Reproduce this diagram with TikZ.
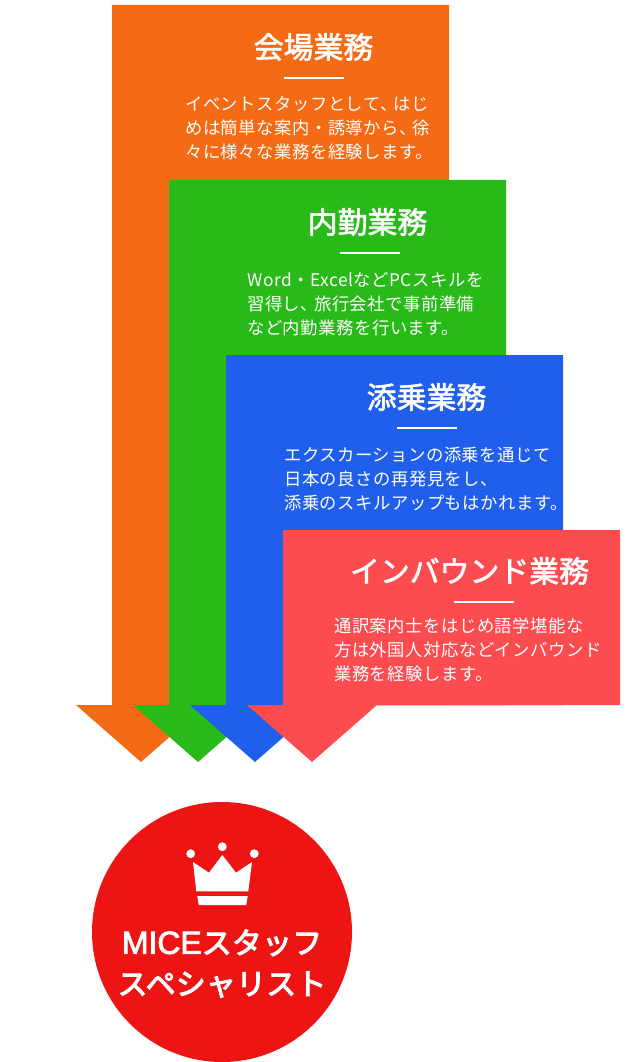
\documentclass[tikz,border=0pt]{standalone}
\usepackage{fontspec}
\usetikzlibrary{positioning}
\newfontfamily\bodyfont[LetterSpace=3]{Noto Sans CJK JP}
\newfontfamily\titlefont[FakeBold=2]{Noto Sans CJK JP}
\newfontfamily\goalfont[LetterSpace=1,FakeBold=3.5]{Noto Sans CJK JP}
\newfontfamily\goallatin[FakeBold=2.5]{Liberation Sans}
\newcommand{\narrowcomma}{、\kern-3pt}
\definecolor{venuecolor}{HTML}{F56A14}
\definecolor{officecolor}{HTML}{28BA18}
\definecolor{tourcolor}{HTML}{1F5FEB}
\definecolor{inboundcolor}{HTML}{FC4C50}
\definecolor{goalcolor}{HTML}{EC1514}

\begin{document}
\begin{tikzpicture}[
			x=0.75pt,
			y=-0.75pt,
			title/.style={
				text=white,
				inner sep=0pt,
				font=\titlefont\fontsize{22.4}{26}\selectfont
			},
			rule/.style={
				rectangle,
				fill=white,
				inner sep=0pt,
				minimum width=45pt,
				minimum height=2pt,
				below=11.5pt of #1
			},
			body/.style={
				text=white,
				inner sep=0pt,
				anchor=north west,
				align=left,
				font=\bodyfont\fontsize{13}{18}\selectfont
			}
			]
			\useasboundingbox (0,0) rectangle (633,1062);
			
			% Arrows
			
			\fill[venuecolor] (112,5) -- (449,5) -- (449,705) -- (206,705) -- (141,762) -- (76,705) -- (112,705) -- cycle;
			\fill[officecolor] (169,180) -- (506,180) -- (506,705) -- (263,705) -- (198,762) -- (133,705) -- (169,705) -- cycle;
			\fill[tourcolor] (226,355) -- (563,355) -- (563,705) -- (320,705) -- (255,762) -- (190,705) -- (226,705) -- cycle;
			\fill[inboundcolor] (283,530) -- (620,530) -- (620,705) -- (377,705) -- (312,762) -- (247,705) -- (283,705) -- cycle;
			
			% Titles
			
			\node [title] (venue) at (313.5,47) {会場業務};
			\node [title] (office) at (367.5,222) {内勤業務};
			\node [title] (tour) at (426.5,397) {添乗業務};
			\node [title] (inbound) at (469.5,571) {インバウンド業務};
			
			% Rules
			
			\node [rule=venue] (venue_rule) {};
			\node [rule=office, xshift=1.9pt] (office_rule) {};
			\node [rule=tour, xshift=.4pt] (tour_rule) {};
			\node [rule=inbound, xshift=10.9pt] (inbound_rule) {};
			
			% Descriptions
			
			\node [body] (venue_text) at (185,96) {イベントスタッフとして\narrowcomma はじ\\めは簡単な案内・誘導から\narrowcomma 徐\\々に様々な業務を経験します。};
			\node [body] (office_text) at (247,272) {Word・ExcelなどPCスキルを\\習得し\narrowcomma 旅行会社で事前準備\\など内勤業務を行います。};
			\node [body] (tour_text) at (284,447) {エクスカーションの添乗を通じて\\日本の良さの再発見をし、\\添乗のスキルアップもはかれます。};
			\node [body] (inbound_text) at (334,618) {通訳案内士をはじめ語学堪能な\\方は外国人対応などインバウンド\\業務を経験します。};
			
			% Goal
			
			\node [circle, fill=goalcolor, inner sep=0pt, minimum size=195pt] (goal) at (222,932) {};
			\fill[white] (193,862) -- (209,872.7) -- (222.3,855) -- (236,872.7) -- (252,862) -- (248.3,891.3) -- (196.3,891.3) -- cycle;
			\fill[white] (197.3,896) -- (247.7,896) -- (246.3,905) -- (198.7,905) -- cycle;
			\fill[white] (190.7,853.7) circle [radius=4.4];
			\fill[white] (222.3,846.7) circle [radius=4.4];
			\fill[white] (254.3,853.7) circle [radius=4.4];
			\node [text=white, inner sep=0pt, align=center, font=\goalfont\fontsize{22.4}{30.75}\selectfont] (goal_text) at (222,963.5) {{\goallatin\fontsize{24}{30.75}\selectfont MICE}スタッフ\\スペシャリスト};
			
		\end{tikzpicture}
\end{document}
